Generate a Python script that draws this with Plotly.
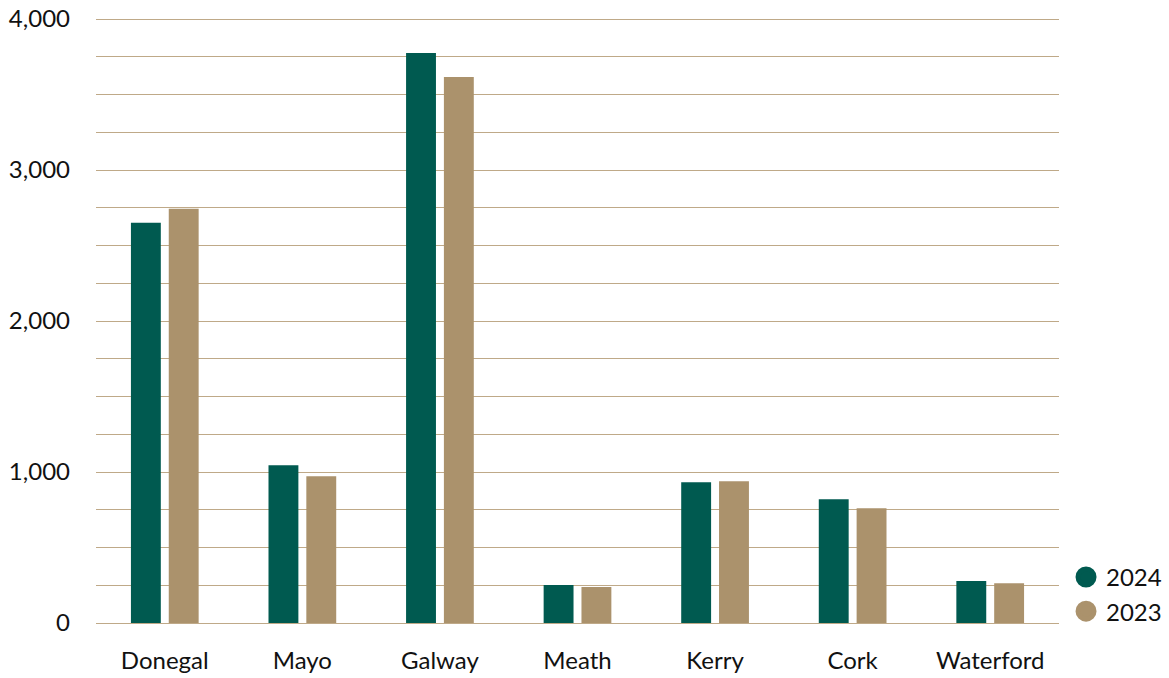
import plotly.graph_objects as go

counties = ["Donegal", "Mayo", "Galway", "Meath", "Kerry", "Cork", "Waterford"]
values_2024 = [2651, 1045, 3775, 251, 932, 820, 278]
values_2023 = [2744, 972, 3617, 238, 939, 760, 264]
y_tick_vals = [0, 1000, 2000, 3000, 4000]
y_tick_text = ["0", "1,000", "2,000", "3,000", "4,000"]

GREEN = "#005a50"
TAN = "#ab926c"
GRID = "#bfa988"

fig = go.Figure()
fig.add_trace(go.Bar(name="2024", x=counties, y=values_2024, marker_color=GREEN,
                     marker_line_width=0, showlegend=False))
fig.add_trace(go.Bar(name="2023", x=counties, y=values_2023, marker_color=TAN,
                     marker_line_width=0, showlegend=False))
# legend entries with round markers
for name, col in (("2024", GREEN), ("2023", TAN)):
    fig.add_trace(go.Scatter(name=name, x=[None], y=[None], mode="markers",
                             marker=dict(symbol="circle", size=16, color=col,
                                         line=dict(width=5, color=col))))

fig.update_layout(
    width=1169, height=678,
    barmode="group", bargap=0.45, bargroupgap=0.21,
    plot_bgcolor="white", paper_bgcolor="white",
    margin=dict(l=96, r=110, t=18, b=55, autoexpand=False),
    font=dict(family="Lato", size=24, color="#111111"),
    showlegend=True,
    legend=dict(x=1.0073, xanchor="left", y=-0.018, yanchor="bottom",
                font=dict(size=24), itemsizing="trace", itemwidth=30,
                tracegroupgap=0, bgcolor="rgba(0,0,0,0)"),
)
fig.update_xaxes(showgrid=False, showline=False, ticks="", tickfont=dict(size=24),
                 automargin=False, ticklabelstandoff=21, ticklabeloverflow="allow")
fig.update_yaxes(range=[0, 4007], tickvals=y_tick_vals, ticktext=y_tick_text,
                 showgrid=True, gridcolor=GRID, gridwidth=1,
                 minor=dict(dtick=250, showgrid=True, gridcolor=GRID, gridwidth=1),
                 zeroline=True, zerolinecolor=GRID, zerolinewidth=1,
                 showline=False, ticks="", ticklabelstandoff=25,
                 tickfont=dict(size=24), automargin=False, ticklabeloverflow="allow")

fig.write_html("out.html", config={"displayModeBar": False},
               post_script="document.body.style.margin='0';document.body.style.overflow='hidden';")
